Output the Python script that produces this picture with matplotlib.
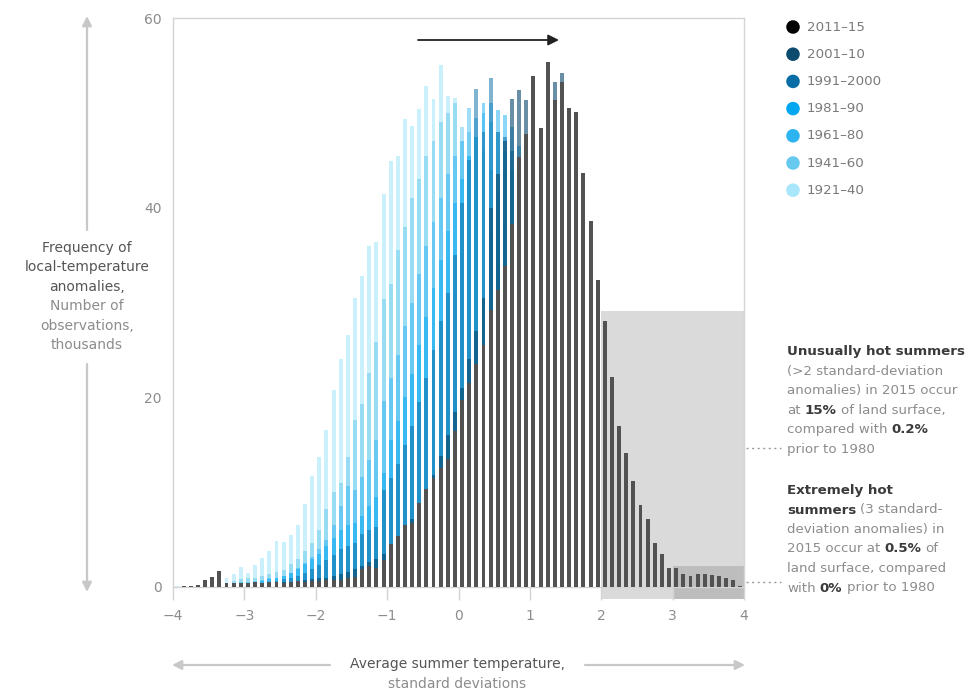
import matplotlib
matplotlib.use("Agg")
import matplotlib.pyplot as plt
from matplotlib.patches import Rectangle
import numpy as np

plt.rcParams['font.family'] = ['DejaVu Sans']

# ---------------- data ----------------
bin_edges_left = np.arange(-4.0, 4.0, 0.1)   # 80 bins, width 0.1

s_1921_40 = [0.1, 0.1, 0.1, 0.2, 0.3, 0.4, 0.5, 0.9, 1.4, 2.1,
             1.5, 2.3, 3.1, 3.8, 4.9, 4.7, 5.5, 6.5, 8.7, 11.7,
             13.7, 16.6, 20.8, 24.0, 26.6, 30.5, 32.8, 36.0, 36.4, 41.4,
             44.9, 45.5, 49.3, 48.6, 50.4, 52.8, 51.5, 55.0, 51.8, 51.6,
             47.0, 45.5, 43.0, 40.5, 37.0, 34.5, 31.0, 28.5, 25.0, 22.5,
             19.5, 17.0, 14.5, 12.5, 10.5, 8.8, 7.2, 6.0, 4.8, 3.9,
             3.0, 2.4, 1.8, 1.4, 1.0, 0.7, 0.5, 0.4, 0.3, 0.2,
             0.1, 0.1, 0.1, 0.1, 0.0, 0.0, 0.0, 0.0, 0.0, 0.0]

s_1941_60 = [0.0, 0.0, 0.0, 0.1, 0.1, 0.2, 0.3, 0.4, 0.6, 0.8,
             0.9, 1.0, 1.2, 1.4, 1.6, 1.8, 2.4, 3.0, 3.8, 4.6,
             6.0, 8.2, 10.0, 11.0, 13.7, 17.6, 19.3, 22.6, 25.8, 30.4,
             32.0, 35.5, 38.0, 41.0, 43.0, 45.5, 47.0, 49.0, 50.0, 51.0,
             48.5, 48.0, 47.5, 46.0, 44.0, 41.5, 38.5, 35.5, 32.5, 29.5,
             26.5, 23.5, 20.5, 17.5, 15.0, 12.5, 10.5, 8.5, 7.0, 5.5,
             4.3, 3.3, 2.5, 1.9, 1.4, 1.0, 0.7, 0.5, 0.3, 0.2,
             0.1, 0.1, 0.1, 0.0, 0.0, 0.0, 0.0, 0.0, 0.0, 0.0]

s_1961_80 = [0.0, 0.0, 0.0, 0.0, 0.1, 0.1, 0.2, 0.3, 0.4, 0.5,
             0.5, 0.6, 0.7, 0.9, 1.0, 1.2, 1.5, 2.0, 2.5, 3.2,
             4.0, 5.0, 6.5, 8.5, 10.7, 10.2, 11.6, 13.4, 15.5, 19.6,
             22.0, 24.5, 27.5, 30.0, 33.0, 36.0, 38.5, 41.0, 43.5, 45.5,
             47.0, 50.5, 49.5, 50.0, 49.0, 48.0, 46.0, 44.0, 41.5, 38.5,
             35.5, 32.0, 28.5, 25.0, 22.0, 19.0, 16.0, 13.5, 11.0, 9.0,
             7.2, 5.7, 4.5, 3.5, 2.6, 2.0, 1.5, 1.1, 0.8, 0.5,
             0.4, 0.3, 0.2, 0.1, 0.1, 0.0, 0.0, 0.0, 0.0, 0.0]

s_1981_90 = [0.0, 0.0, 0.0, 0.0, 0.0, 0.1, 0.1, 0.2, 0.2, 0.3,
             0.4, 0.5, 0.6, 0.8, 1.0, 1.2, 1.5, 1.9, 2.4, 2.9,
             3.5, 4.3, 5.2, 6.0, 6.5, 6.8, 7.5, 8.5, 9.5, 12.0,
             15.5, 17.5, 20.0, 22.5, 25.5, 28.5, 31.5, 34.5, 37.5, 40.5,
             43.0, 45.5, 47.5, 51.0, 51.0, 50.3, 49.8, 48.5, 46.5, 44.0,
             41.0, 37.5, 34.0, 30.5, 27.0, 23.5, 20.0, 17.0, 14.0, 11.5,
             9.2, 7.3, 5.7, 4.4, 3.4, 2.6, 1.9, 1.4, 1.0, 0.7,
             0.5, 0.3, 0.2, 0.2, 0.1, 0.1, 0.0, 0.0, 0.0, 0.0]

s_1991_2000 = [0.0, 0.0, 0.0, 0.0, 0.0, 0.0, 0.1, 0.1, 0.2, 0.2,
               0.3, 0.3, 0.4, 0.5, 0.6, 0.8, 1.0, 1.2, 1.5, 1.9,
               2.3, 2.8, 3.4, 4.0, 4.3, 4.6, 5.6, 6.0, 6.3, 10.2,
               11.5, 13.0, 15.0, 17.0, 19.5, 22.0, 25.0, 28.0, 31.0, 35.0,
               40.5, 45.0, 52.5, 48.0, 53.7, 48.0, 47.5, 46.0, 44.0, 42.0,
               40.0, 36.5, 33.0, 29.5, 26.0, 22.5, 19.0, 16.0, 13.0, 10.5,
               8.5, 6.7, 5.2, 4.0, 3.0, 2.2, 1.6, 1.2, 0.9, 0.6,
               0.4, 0.3, 0.2, 0.1, 0.1, 0.1, 0.0, 0.0, 0.0, 0.0]

s_2001_10 = [0.0, 0.0, 0.0, 0.0, 0.1, 0.1, 0.1, 0.2, 0.2, 0.2,
             0.3, 0.3, 0.3, 0.4, 0.4, 0.5, 0.5, 0.6, 0.7, 0.8,
             0.9, 1.0, 1.2, 1.4, 1.6, 1.9, 2.2, 2.6, 3.0, 3.5,
             4.2, 5.0, 6.0, 7.2, 8.5, 10.0, 11.8, 13.8, 16.0, 18.5,
             21.0, 24.0, 27.0, 30.5, 40.0, 43.5, 47.0, 51.5, 52.4, 51.4,
             52.0, 48.0, 50.0, 53.2, 54.2, 49.5, 46.0, 40.0, 35.0, 29.5,
             24.5, 19.5, 15.0, 11.5, 8.5, 6.3, 4.6, 3.3, 2.4, 1.7,
             1.2, 0.8, 0.6, 0.4, 0.3, 0.2, 0.1, 0.1, 0.0, 0.0]

s_2011_15 = [0.0, 0.1, 0.1, 0.2, 0.7, 1.1, 1.7, 0.4, 0.4, 0.4,
             0.4, 0.5, 0.4, 0.5, 0.5, 0.4, 0.5, 0.6, 0.5, 0.6,
             0.6, 0.7, 0.7, 0.7, 0.9, 1.1, 1.9, 2.2, 2.0, 2.8,
             4.5, 5.4, 6.5, 6.8, 8.9, 10.3, 11.5, 12.5, 13.5, 16.5,
             19.7, 21.5, 23.5, 25.5, 29.2, 31.3, 33.8, 38.3, 45.3, 47.8,
             53.9, 48.4, 55.4, 51.4, 53.3, 50.5, 50.1, 43.7, 38.6, 32.4,
             28.0, 22.1, 17.0, 14.1, 11.2, 8.6, 7.2, 4.6, 3.5, 2.0,
             2.0, 1.4, 1.2, 1.4, 1.4, 1.3, 1.2, 1.0, 0.7, 0.1]

period_labels = ["2011–15", "2001–10", "1991–2000", "1981–90", "1961–80", "1941–60", "1921–40"]
period_colors = ["#000000", "#0c4a6e", "#0a6ea6", "#00a6f0", "#2db4f0", "#68c9ee", "#a8e6fb"]
period_series = [s_2011_15, s_2001_10, s_1991_2000, s_1981_90, s_1961_80, s_1941_60, s_1921_40]

x_ticks = [-4, -3, -2, -1, 0, 1, 2, 3, 4]
x_tick_labels = ["−4", "−3", "−2", "−1", "0", "1", "2", "3", "4"]
y_ticks = [0, 20, 40, 60]
y_tick_labels = ["0", "20", "40", "60"]

# ---------------- figure ----------------
W, H = 976, 691
fig = plt.figure(figsize=(W / 100, H / 100), dpi=100)
fig.patch.set_facecolor("white")

ax = fig.add_axes([173 / W, 1 - 587 / H, (744 - 173) / W, (587 - 18) / H])
ax.set_xlim(-4, 4)
ax.set_ylim(0, 60)

centers = bin_edges_left + 0.05
bar_w = 0.055

# shaded regions
ax.add_patch(Rectangle((2, -1.3), 2, 30.4, facecolor="#dadada", edgecolor="none",
                       clip_on=False, zorder=0.5))
ax.add_patch(Rectangle((3, -1.3), 1, 3.5, facecolor="#bdbdbd", edgecolor="none",
                       clip_on=False, zorder=0.6))

# blue bars: oldest first, semi-transparent
n = len(period_series)
alphas = [0.68, 0.62, 0.52, 0.45, 0.45, 0.5, 0.6]
for k in range(n - 1, 0, -1):
    ax.bar(centers, period_series[k], width=bar_w, color=period_colors[k],
           alpha=alphas[k], linewidth=0, zorder=2 + (n - k))
# newest (black) on top, over a white underlay so it reads as uniform grey
ax.bar(centers, s_2011_15, width=bar_w, color="white", linewidth=0, zorder=2 + n)
ax.bar(centers, s_2011_15, width=bar_w, color=period_colors[0], alpha=alphas[0],
       linewidth=0, zorder=3 + n)

for side in ["left", "right", "top", "bottom"]:
    ax.spines[side].set_color("#d4d4d4")
    ax.spines[side].set_linewidth(1.0)
ax.spines["bottom"].set_zorder(1)

ax.set_xticks(x_ticks)
ax.set_xticklabels(x_tick_labels)
ax.set_yticks(y_ticks)
ax.set_yticklabels(y_tick_labels)
ax.tick_params(axis="x", direction="out", length=9, width=1, color="#d4d4d4",
               labelsize=10, labelcolor="#8c8c8c", pad=7)
ax.tick_params(axis="y", length=0, labelsize=10, labelcolor="#8c8c8c", pad=8)

# ---------------- overlay in pixel coordinates ----------------
ov = fig.add_axes([0, 0, 1, 1], facecolor="none")
ov.set_xlim(0, W)
ov.set_ylim(H, 0)
ov.axis("off")

dark = "#3a3a3a"
gray = "#8c8c8c"
arrow_gray = "#c8c8c8"

# top shift arrow
ov.annotate("", xy=(559, 40), xytext=(418, 40),
            arrowprops=dict(arrowstyle="-|>", color="#222222", lw=1.3,
                            mutation_scale=16, shrinkA=0, shrinkB=0))

# y-axis label with arrows
ylab = [("Frequency of", "#555555"), ("local-temperature", "#555555"), ("anomalies,", "#555555"),
        ("Number of", gray), ("observations,", gray), ("thousands", gray)]
for i, (t, c) in enumerate(ylab):
    ov.text(87, 248 + i * 19.4, t, ha="center", va="center", fontsize=10, color=c)
ov.annotate("", xy=(87, 16), xytext=(87, 230),
            arrowprops=dict(arrowstyle="-|>", color=arrow_gray, lw=1.6,
                            mutation_scale=14, shrinkA=0, shrinkB=0))
ov.annotate("", xy=(87, 592), xytext=(87, 364),
            arrowprops=dict(arrowstyle="-|>", color=arrow_gray, lw=1.6,
                            mutation_scale=14, shrinkA=0, shrinkB=0))

# x-axis label with arrows
ov.text(457, 664, "Average summer temperature,", ha="center", va="center",
        fontsize=10, color="#555555")
ov.text(457, 684, "standard deviations", ha="center", va="center",
        fontsize=10, color=gray)
ov.annotate("", xy=(172, 665), xytext=(330, 665),
            arrowprops=dict(arrowstyle="-|>", color=arrow_gray, lw=1.6,
                            mutation_scale=14, shrinkA=0, shrinkB=0))
ov.annotate("", xy=(745, 665), xytext=(585, 665),
            arrowprops=dict(arrowstyle="-|>", color=arrow_gray, lw=1.6,
                            mutation_scale=14, shrinkA=0, shrinkB=0))

# legend
for i, (lab, col) in enumerate(zip(period_labels, period_colors)):
    yy = 27 + i * 27.2
    ov.scatter([793], [yy], s=95, color=col, edgecolors="none", zorder=5)
    ov.text(807, yy, lab, ha="left", va="center", fontsize=9.6, color="#7a7a7a")

# annotations with mixed bold text
fig.canvas.draw()
renderer = fig.canvas.get_renderer()
FS = 9.6
_t1 = ov.text(0, 0, "a a", fontsize=FS)
_t2 = ov.text(0, 0, "aa", fontsize=FS)
space_w = _t1.get_window_extent(renderer).width - _t2.get_window_extent(renderer).width
_t1.remove()
_t2.remove()


def rich_line(x, y, segs):
    cur = x
    for s, bold in segs:
        lead = s.startswith(" ")
        trail = s.endswith(" ")
        core = s.strip(" ")
        if lead:
            cur += space_w
        t = ov.text(cur, y, core, ha="left", va="baseline", fontsize=FS,
                    fontweight="bold" if bold else "normal",
                    color=dark if bold else gray)
        cur += t.get_window_extent(renderer).width
        if trail:
            cur += space_w


x0 = 787
block1 = [
    [("Unusually hot summers", True)],
    [("(>2 standard-deviation", False)],
    [("anomalies) in 2015 occur", False)],
    [("at ", False), ("15%", True), (" of land surface,", False)],
    [("compared with ", False), ("0.2%", True)],
    [("prior to 1980", False)],
]
for i, segs in enumerate(block1):
    rich_line(x0, 355 + i * 19.5, segs)

block2 = [
    [("Extremely hot", True)],
    [("summers", True), (" (3 standard-", False)],
    [("deviation anomalies) in", False)],
    [("2015 occur at ", False), ("0.5%", True), (" of", False)],
    [("land surface, compared", False)],
    [("with ", False), ("0%", True), (" prior to 1980", False)],
]
for i, segs in enumerate(block2):
    rich_line(x0, 494 + i * 19.5, segs)

# dotted leader lines
ov.plot([746, 781], [448, 448], linestyle=(0, (1.5, 2.5)), color="#9a9a9a", lw=1)
ov.plot([746, 781], [582, 582], linestyle=(0, (1.5, 2.5)), color="#9a9a9a", lw=1)

fig.savefig("out.png", dpi=100, facecolor="white")
